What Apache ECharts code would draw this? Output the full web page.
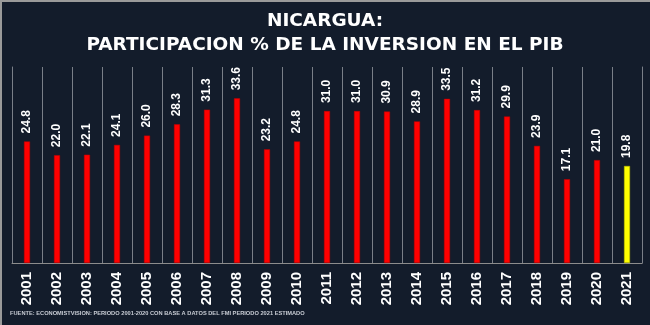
<!DOCTYPE html>
<html>
<head>
<meta charset="utf-8">
<script src="https://cdn.jsdelivr.net/npm/echarts@6/dist/echarts.min.js"></script>
<style>
html,body{margin:0;padding:0;background:#131c2b;}
#c{width:650px;height:325px;}
</style>
</head>
<body>
<div id="c"></div>
<script>
var years = ['2001','2002','2003','2004','2005','2006','2007','2008','2009','2010','2011','2012','2013','2014','2015','2016','2017','2018','2019','2020','2021'];
var values = [24.8,22.0,22.1,24.1,26.0,28.3,31.3,33.6,23.2,24.8,31.0,31.0,30.9,28.9,33.5,31.2,29.9,23.9,17.1,21.0,19.8];
var estimatedYears = ['2021'];
var titleLine1 = 'NICARGUA:';
var titleLine2 = 'PARTICIPACION % DE LA INVERSION EN EL PIB';
var footer = 'FUENTE: ECONOMISTVISION: PERIODO 2001-2020 CON BASE A DATOS DEL FMI PERIODO 2021 ESTIMADO';

var chart = echarts.init(document.getElementById('c'));
var data = values.map(function(v, i){
  var est = estimatedYears.indexOf(years[i]) >= 0;
  return {value: v, itemStyle: {color: est ? '#ffff00' : '#ff0000', borderColor: est ? '#b5b500' : '#c00000', borderWidth: 0.5}};
});
var titleStyle = {color: '#ffffff', fontFamily: 'DejaVu Sans', fontWeight: 'bold', fontSize: 18.5};
chart.setOption({
  backgroundColor: '#131c2b',
  animation: false,
  title: [{
    text: titleLine1, left: 'center', top: 7, textStyle: titleStyle
  },{
    text: titleLine2, left: 'center', top: 31, textStyle: titleStyle
  }],
  grid: {left: 12, right: 8, top: 67, bottom: 62, containLabel: false},
  xAxis: {
    type: 'category',
    data: years,
    boundaryGap: true,
    axisLine: {show: true, lineStyle: {color: '#8c8c8c', width: 1}},
    axisTick: {show: false},
    splitLine: {show: true, interval: 0, lineStyle: {color: '#7a7f88', width: 1}},
    axisLabel: {
      interval: 0, rotate: 90, color: '#ffffff', margin: 9,
      fontFamily: 'Liberation Sans', fontWeight: 'bold', fontSize: 15
    }
  },
  yAxis: [{
    type: 'value', min: 0, max: 40,
    axisLine: {show: true, lineStyle: {color: '#7a7f88'}},
    axisTick: {show: false},
    axisLabel: {show: false},
    splitLine: {show: false}
  },{
    type: 'value', min: 0, max: 40, position: 'right',
    axisLine: {show: true, lineStyle: {color: '#7a7f88'}},
    axisTick: {show: false},
    axisLabel: {show: false},
    splitLine: {show: false}
  }],
  series: [{
    type: 'bar',
    data: data,
    barWidth: 6,
    label: {
      show: true, position: 'top', rotate: 90, distance: 8,
      align: 'left', verticalAlign: 'middle',
      color: '#ffffff', fontFamily: 'Liberation Sans', fontWeight: 'bold', fontSize: 12,
      formatter: function(p){ return p.value.toFixed(1); }
    }
  }],
  graphic: [
    {type: 'rect', left: 0, top: 0, shape: {width: 650, height: 2}, style: {fill: '#9a9a9a'}},
    {type: 'rect', left: 0, top: 0, shape: {width: 2, height: 325}, style: {fill: '#9a9a9a'}},
    {type: 'text', left: 10, top: 310, style: {text: footer, fill: '#c8ccd4', font: 'bold 5.7px "Liberation Sans"'}}
  ]
});
</script>
</body>
</html>
